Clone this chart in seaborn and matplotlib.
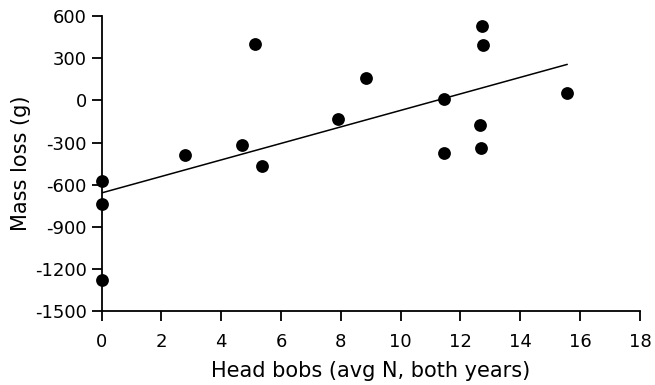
import matplotlib
matplotlib.use("Agg")
import matplotlib.pyplot as plt
import seaborn as sns
import pandas as pd
import numpy as np

head_bobs = [0.0, 0.0, 0.0, 2.79, 4.68, 5.13, 5.35, 7.89, 8.85, 11.46, 11.46,
             12.64, 12.69, 12.71, 12.75, 15.57]
mass_loss = [-574, -738, -1281, -390, -320, 400, -470, -135, 159, 7, -377,
             -176, -337, 531, 396, 54]
x_ticks = [0, 2, 4, 6, 8, 10, 12, 14, 16, 18]
y_ticks = [-1500, -1200, -900, -600, -300, 0, 300, 600]

df = pd.DataFrame({"Head bobs": head_bobs, "Mass loss": mass_loss})

sns.set_style("ticks")
plt.rcParams['font.family'] = ['DejaVu Sans']
for k in ["text.color", "axes.labelcolor", "xtick.color", "ytick.color", "axes.edgecolor"]:
    plt.rcParams[k] = "black"

fig = plt.figure(figsize=(6.55, 3.85), dpi=100)
ax = fig.add_axes([0.155, 0.192, 0.822, 0.766])

sns.regplot(data=df, x="Head bobs", y="Mass loss", ax=ax, ci=None,
            scatter_kws=dict(s=85, color="black", alpha=1, clip_on=False, zorder=3, linewidths=0),
            line_kws=dict(color="black", lw=1.1), truncate=True)

ax.set_xlim(0, 18)
ax.set_ylim(-1500, 600)
ax.set_xticks(x_ticks)
ax.set_yticks(y_ticks)
ax.set_xticklabels([str(t) for t in x_ticks], fontsize=13)
ax.set_yticklabels([str(t) for t in y_ticks], fontsize=13)
ax.tick_params(direction="out", length=7, width=1.3, color="black")
ax.tick_params(axis="x", pad=9)
ax.tick_params(axis="y", pad=3.5)
for s in ["left", "bottom"]:
    ax.spines[s].set_linewidth(1.3)
    ax.spines[s].set_color("black")
for s in ["top", "right"]:
    ax.spines[s].set_visible(False)

ax.set_xlabel("Head bobs (avg N, both years)", fontsize=15, labelpad=7)
ax.set_ylabel("Mass loss (g)", fontsize=15, labelpad=3)

fig.savefig("out.png", dpi=100)
